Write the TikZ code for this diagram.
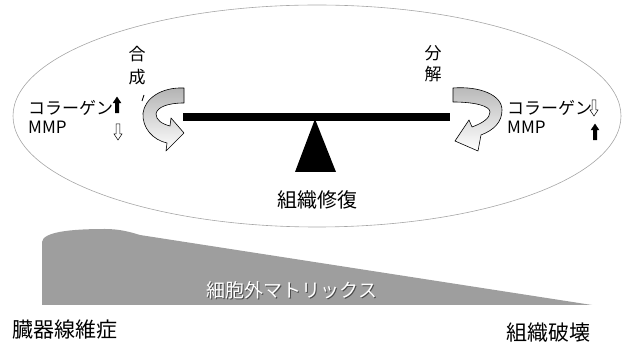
\documentclass[tikz,border=0pt]{standalone}
\usepackage{fontspec}
\newfontfamily\jp{Noto Sans CJK JP}
\begin{document}
\begin{tikzpicture}[x=1pt,y=-1pt,
  lbl/.style={font=\jp\fontsize{17}{19}\selectfont, inner sep=0pt},
  biglbl/.style={font=\jp\fontsize{20}{22}\selectfont, inner sep=0pt},
  curvearrow/.style={draw=black, line width=0.6pt, line join=round},
  blkarrow/.pic={\filldraw[black, line width=0.4pt] (0,-8) -- (4,-2) -- (1.8,-2) -- (1.8,8) -- (-1.8,8) -- (-1.8,-2) -- (-4,-2) -- cycle;},
  holarrow/.pic={\filldraw[draw=black, fill=white, line width=0.5pt] (0,-8) -- (4,-2) -- (1.8,-2) -- (1.8,8) -- (-1.8,8) -- (-1.8,-2) -- (-4,-2) -- cycle;}
]
\useasboundingbox (0,0) rectangle (627,344);
% ellipse
\draw[black!35, line width=0.6pt] (317,116) ellipse [x radius=304pt, y radius=111pt];
% beam and fulcrum
\fill[black] (183,113) rectangle (450,121);
\fill[black] (315,119) -- (336,172) -- (295,172) -- cycle;
\node[biglbl] (repair) at (317,200) {組織修復};
% left curved arrow
\draw[curvearrow, top color=black!30, bottom color=white]
  (184,88) .. controls (162,87) and (145,98) .. (143,113)
  .. controls (142,128) and (153,140) .. (167,143)
  -- (166,151) -- (184,133) -- (171,118) -- (170,126)
  .. controls (162,124) and (156,120) .. (156,114)
  .. controls (157,107) and (168,103) .. (184,103) -- cycle;
% right curved arrow
\draw[curvearrow, top color=black!28, bottom color=white]
  (453,88) .. controls (480,86) and (502,95) .. (502,110)
  .. controls (502,122) and (494,130) .. (481,135)
  -- (478,151) -- (455,141) -- (469,120) -- (472,127)
  .. controls (483,123) and (490,118) .. (490,112)
  .. controls (490,106) and (475,102) .. (453,102) -- cycle;
% left labels
\node[lbl, align=center] (synth) at (137,66) {合\\[4pt]成};
\draw[line width=0.8pt] (144,95) -- (142,101);
\node[lbl, anchor=west] (colL) at (28,108) {コラーゲン};
\node[lbl, anchor=west] (mmpL) at (28,127) {MMP};
\pic at (117,105) {blkarrow};
\pic[rotate=180] at (118,132) {holarrow};
% right labels
\node[lbl, align=center] (decomp) at (433,64) {分\\[2pt]解};
\node[lbl, anchor=west] (colR) at (507,108) {コラーゲン};
\node[lbl, anchor=west] (mmpR) at (507,127) {MMP};
\pic[rotate=180] at (594,108) {holarrow};
\pic at (595,132) {blkarrow};
% wedge
\fill[black!38] (42,305) -- (42,242)
  .. controls (43,232) and (70,229) .. (105,229)
  .. controls (120,229) and (130,232) .. (140,235)
  -- (592,305) -- cycle;
\node[font=\jp\fontsize{19}{21}\selectfont, text=black!70, inner sep=0pt] (ecmsh) at (293.2,291.2) {細胞外マトリックス};
\node[font=\jp\fontsize{19}{21}\selectfont, text=white, inner sep=0pt] (ecm) at (292,290) {細胞外マトリックス};
% bottom labels
\node[font=\jp\fontsize{21}{23}\selectfont, inner sep=0pt, anchor=west] (fib) at (12,330) {臓器線維症};
\node[font=\jp\fontsize{21}{23}\selectfont, inner sep=0pt, anchor=east] (destr) at (591,333) {組織破壊};
\end{tikzpicture}
\end{document}
